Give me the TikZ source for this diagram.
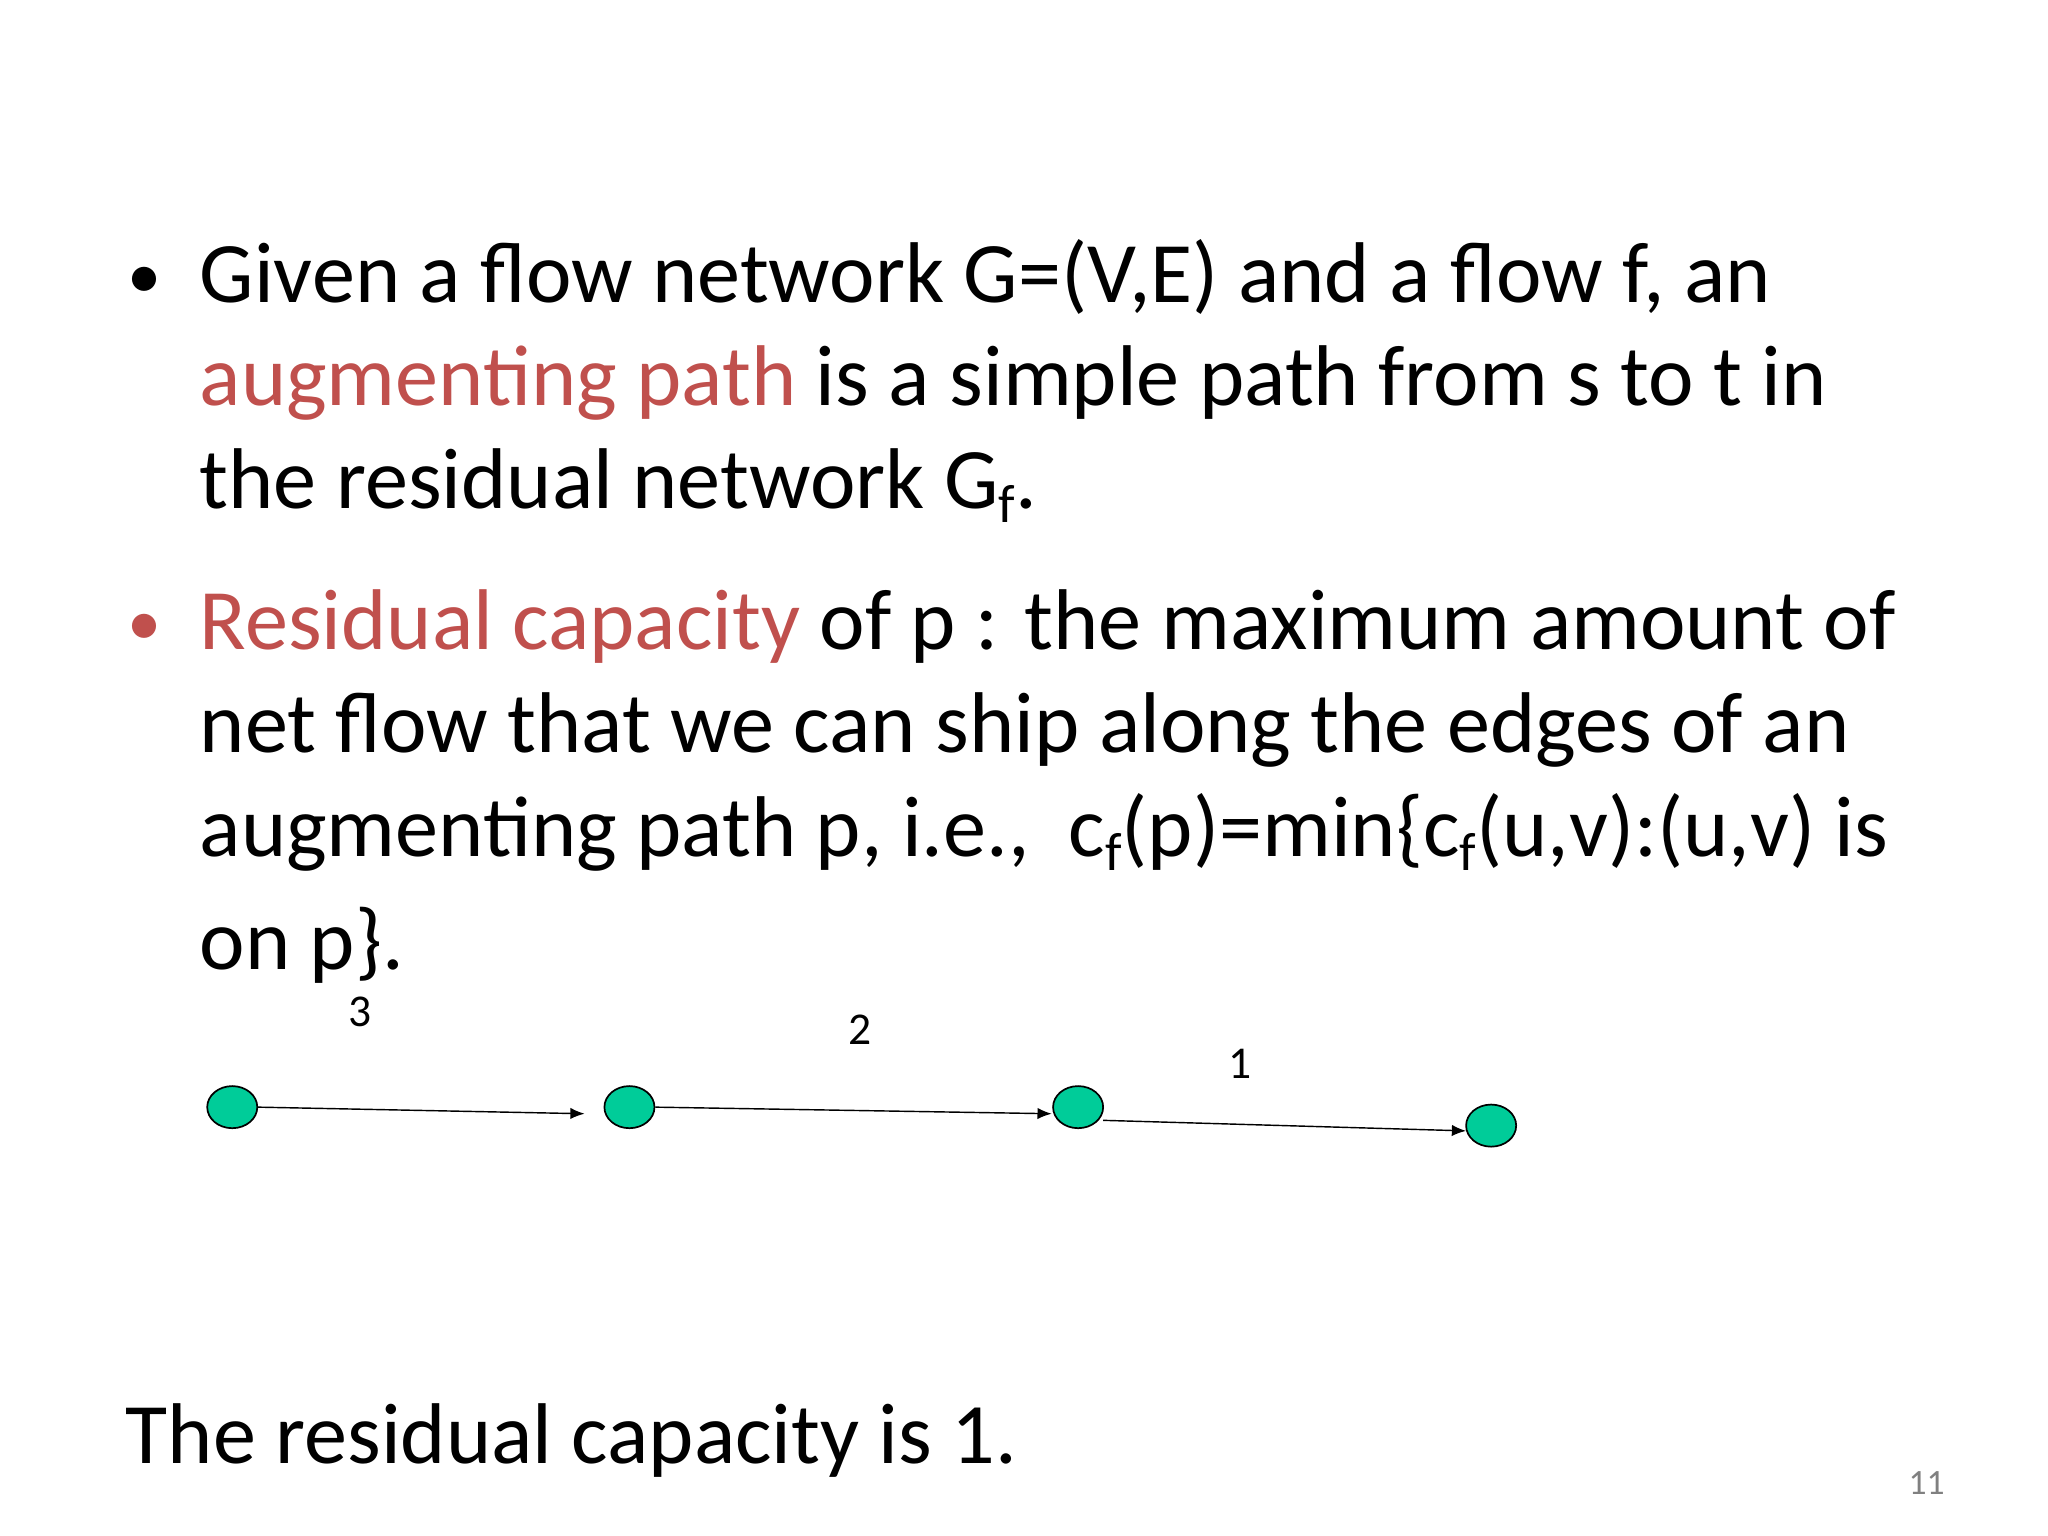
\documentclass[tikz,border=0pt]{standalone}
\usepackage{fontspec}
\setmainfont{Carlito}
\usetikzlibrary{shapes.geometric,arrows.meta}
\definecolor{hl}{HTML}{C0504D}
\definecolor{nodegreen}{HTML}{00CC99}
\newcommand{\subf}{\raisebox{-0.35ex}{\fontsize{19}{19}\selectfont f}}
\begin{document}
\begin{tikzpicture}[x=0.4639pt,y=-0.4639pt,
  txt/.style={anchor=base west,inner sep=0pt,font=\fontsize{30.3}{36}\selectfont},
  bul/.style={anchor=base west,inner sep=0pt,font=\fontsize{24}{24}\selectfont},
  vtx/.style={ellipse,draw=black,fill=nodegreen,minimum width=17.6pt,minimum height=14.8pt,inner sep=0pt,line width=0.6pt},
  edge/.style={-{Latex[length=5pt,width=4pt]},line width=0.5pt},
  lab/.style={font=\fontsize{16}{16}\selectfont,inner sep=0pt}]
\useasboundingbox (0,0) rectangle (1552,1164);
\node[bul] (b1) at (96,226) {•};
\node[txt] (l1) at (151,229) {Given a flow network G=(V,E) and a flow f, an};
\node[txt] (l2) at (151,307) {\textcolor{hl}{augmenting path} is a simple path from s to t in};
\node[txt] (l3) at (151,385) {the residual network G\subf.};
\node[bul,text=hl] (b2) at (96,489) {•};
\node[txt] (l4) at (151,492) {\textcolor{hl}{Residual capacity} of p : the maximum amount of};
\node[txt] (l5) at (151,570) {net flow that we can ship along the edges of an};
\node[txt] (l6) at (151,649) {augmenting path p, i.e.,\ \ c\subf(p)=min\{c\subf(u,v):(u,v) is};
\node[txt] (l7) at (151,735) {on p\}.};
\node[txt] (l8) at (95,1109) {The residual capacity is 1.};
\node[font=\fontsize{12.5}{12.5}\selectfont,text=gray,inner sep=0pt] (pg) at (1460,1124) {11};
\node[vtx] (n1) at (176,839) {};
\node[vtx] (n2) at (477,839) {};
\node[vtx] (n3) at (817,839) {};
\node[vtx] (n4) at (1130,853) {};
\coordinate (e1) at (443,844);
\coordinate (e2) at (797,844);
\coordinate (e3) at (1111,857);
\draw[edge] (n1.east) -- (e1);
\draw[edge] (n2.east) -- (e2);
\draw[edge] (836,849) coordinate (s3) -- (e3);
\node[lab] (w1) at (273,767) {3};
\node[lab] (w2) at (652,780) {2};
\node[lab] (w3) at (940,806) {1};
\end{tikzpicture}
\end{document}
